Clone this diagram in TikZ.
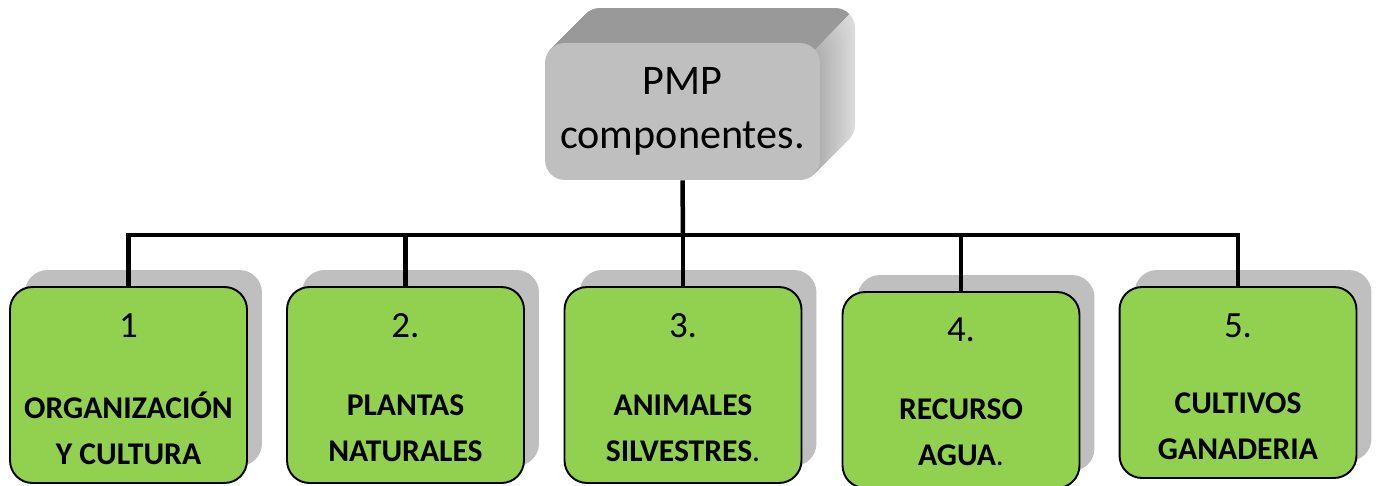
\documentclass[tikz,border=0pt]{standalone}
\usepackage{fontspec}
\setmainfont{Carlito}
\usetikzlibrary{shadows}
\definecolor{leafgreen}{HTML}{92D050}
\definecolor{shadowgray}{HTML}{BFBFBF}
\begin{document}
\begin{tikzpicture}[x=0.02cm, y=-0.02cm,
  root/.style = {fill=black!25, rounded corners=0.4cm, minimum width=5.5cm, minimum height=2.74cm, inner sep=0pt, align=center, font=\fontsize{24}{31}\selectfont},
  leaf/.style = {draw, line width=1.1pt, fill=leafgreen, rounded corners=0.45cm, minimum width=4.74cm, minimum height=3.92cm, drop shadow={shadow xshift=0.3cm, shadow yshift=0.34cm, fill=shadowgray, opacity=1}},
  num/.style = {anchor=base, font=\fontsize{21}{24}\selectfont},
  lab/.style = {align=center, font=\fontsize{18}{26}\selectfont\bfseries},
  link/.style = {line width=0.09cm}]
\useasboundingbox (0,0) rectangle (1376,485);

\foreach \i [evaluate=\i as \c using 31-0.5*\i] in {35,34,...,1}
  \fill[black!\c, rounded corners=0.4cm] (545+\i,43-\i) rectangle (820+\i,180-\i);
\begin{scope}
\clip (1014,-151) -- (414,449) -- (414,-151) -- cycle;
\foreach \i in {35,34,...,1}
  \fill[black!40, rounded corners=0.4cm] (545+\i,43-\i) rectangle (820+\i,180-\i);
\end{scope}
\node[root] (root) at (682.5,111.5) {PMP\\componentes.};

\node[leaf] (b1) at (128.5,385) {};
\node[num] (n1) at ([yshift=-1.02cm]b1.north) {1};
\node[lab] (l1) at ([yshift=-2.84cm]b1.north) {ORGANIZACIÓN\\Y CULTURA};

\node[leaf] (b2) at (405.5,385) {};
\node[num] (n2) at ([yshift=-1.02cm]b2.north) {2.};
\node[lab] (l2) at ([yshift=-2.84cm]b2.north) {PLANTAS\\NATURALES};

\node[leaf] (b3) at (683,385) {};
\node[num] (n3) at ([yshift=-1.02cm]b3.north) {3.};
\node[lab] (l3) at ([yshift=-2.84cm]b3.north) {ANIMALES\\SILVESTRES\mdseries.};

\node[leaf] (b4) at (961,390) {};
\node[num] (n4) at ([yshift=-1.0cm]b4.north) {4.};
\node[lab] (l4) at ([yshift=-2.83cm]b4.north) {RECURSO\\AGUA\mdseries.};

\node[leaf, minimum height=3.82cm] (b5) at (1238,382.5) {};
\node[num] (n5) at ([yshift=-1.02cm]b5.north) {5.};
\node[lab] (l5) at ([yshift=-2.81cm]b5.north) {CULTIVOS\\GANADERIA};

\coordinate (bus) at (683,235);
\draw[link] (root.south) -- (bus);
\foreach \b in {b1,b2,b3,b4,b5}
  \draw[link] (bus) -| (\b.north);

\end{tikzpicture}
\end{document}
